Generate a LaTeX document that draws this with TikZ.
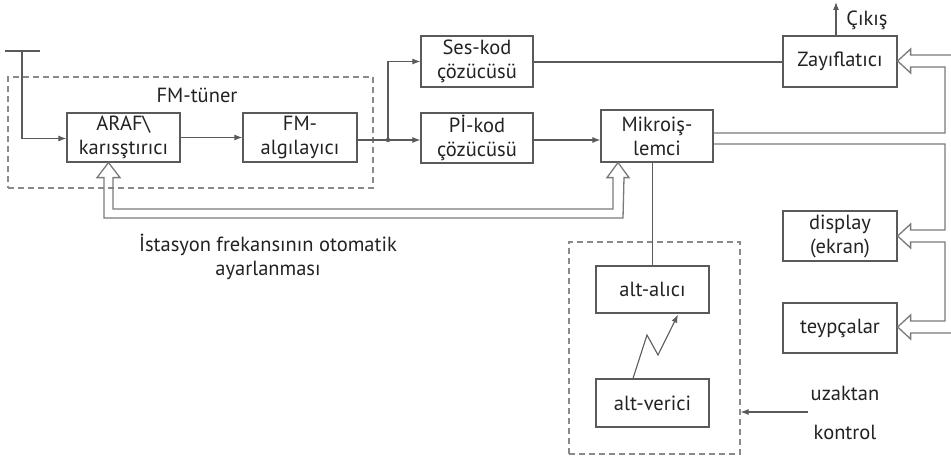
\documentclass[tikz,border=0pt]{standalone}
\usepackage{fontspec}
\setmainfont{PT Sans}
\usetikzlibrary{calc,arrows.meta}
\definecolor{linegray}{HTML}{5A5A5A}
\definecolor{dashgray}{HTML}{8A8A8A}
\definecolor{busgray}{HTML}{7A7A7A}
\definecolor{ink}{HTML}{222222}
\begin{document}
\begin{tikzpicture}[x=1pt,y=-1pt,
  every node/.style={text=ink,font=\fontsize{20.5}{24}\selectfont},
  block/.style={draw=linegray,line width=1.2pt,align=center,inner sep=0pt},
  group/.style={draw=dashgray,line width=1.2pt,dash pattern=on 6pt off 4pt,inner sep=0pt},
  wire/.style={draw=linegray,line width=1.1pt},
  arr/.style={wire,-{Latex[length=8pt,width=6pt]}},
  bus/.style={draw=busgray,line width=1.3pt,line join=miter},
  lbl/.style={align=center}]
\path[use as bounding box] (0,0) rectangle (951,460);

% group frames
\node[group,minimum width=365pt,minimum height=111pt] (tuner) at (190.5,132.5) {};
\node[group,minimum width=171pt,minimum height=212pt] (remote) at (654.5,348) {};

% blocks
\node[block,minimum width=113pt,minimum height=49pt] (araf) at (123.5,137.5) {ARAF\textbackslash\\karısştırıcı};
\node[block,minimum width=114pt,minimum height=49pt] (fmdet) at (300,137.5) {FM-\\algılayıcı};
\node[block,minimum width=112pt,minimum height=51pt] (ses) at (477,61.5) {Ses-kod\\çözücüsü};
\node[block,minimum width=112pt,minimum height=50pt] (pikod) at (477,138) {Pİ-kod\\çözücüsü};
\node[block,minimum width=112pt,minimum height=52pt] (mikro) at (657,136) {Mikroiş-\\lemci};
\node[block,minimum width=114pt,minimum height=51pt] (zay) at (840,61.5) {Zayıflatıcı};
\node[block,minimum width=114pt,minimum height=50pt] (disp) at (840,236) {display\\(ekran)};
\node[block,minimum width=114pt,minimum height=50pt] (teyp) at (840,328) {teypçalar};
\node[block,minimum width=113pt,minimum height=47pt] (alici) at (652.5,289.5) {alt-alıcı};
\node[block,minimum width=113pt,minimum height=48pt] (verici) at (652.5,403) {alt-verici};

% labels
\node (tunerlbl) at (197,95) {FM-tüner};
\node (outlbl) at (867,20) {Çıkış};
\node[lbl] (afc) at (268,257) {İstasyon frekansının otomatik\\ayarlanması};
\node (uz) at (845,393) {uzaktan};
\node (ko) at (845,432) {kontrol};

% antenna and signal path
\coordinate (antL) at (5,51);
\coordinate (antR) at (40,51);
\coordinate (ant) at (22,51);
\draw[wire] (antL) -- (antR);
\draw[arr] (ant) |- ($(araf.west)+(0,1)$);
\draw[arr] (araf) -- (fmdet);
\coordinate (split) at (388,140);
\draw[wire] (fmdet.east |- split) -- (split);
\fill[linegray] (split) circle (2.2pt);
\draw[arr] (split) -- (split -| pikod.west);
\draw[arr] (split) |- (ses.west);
\draw[wire] ($(ses.east)+(0,0.5)$) -- ($(zay.west)+(0,0.5)$);
\draw[arr] (pikod.east |- split) -- (mikro.west |- split);
\coordinate (outend) at (836,2);
\draw[arr] (zay.north -| outend) -- (outend);

% remote control
\draw[wire] (alici.north) -- (alici.north |- mikro.south);
\coordinate (rcstart) at (808,412);
\draw[arr] (rcstart) -- (rcstart -| remote.east);
\draw[arr] ($(verici.north)+(-19.5,0)$) -- (647,335) -- (658,355) -- ($(alici.south)+(25.5,1)$);

% automatic frequency control bus (hollow arrows up into ARAF and Mikroislemci)
\draw[bus] (104,218) -- ($(araf.south)+(-19.5,15)$) -- ++(-7,0) -- ($(araf.south)+(-15,0)$) -- ++(11.5,15) -- ++(-7,0) -- (113,209) -- (613,209) -- ($(mikro.south)+(-44,15)$) -- ++(-6,0) -- ($(mikro.south)+(-39,0)$) -- ++(11,15) -- ++(-5,0) -- (623,218) -- cycle;

% control buses on the right
\coordinate (edgeA) at (955,55);
\coordinate (edgeB) at (955,333);
\draw[bus] (edgeA) -- ($(zay.east)+(13,-6.5)$) -- ++(0,-6) -- ($(zay.east)+(0,-0.5)$) -- ($(zay.east)+(13,11.5)$) -- ++(0,-6) -- (945,67) -- (945,133) -- ($(mikro.east)+(0,-3)$);
\draw[bus] ($(mikro.east)+(0,8)$) -- (945,144) -- (945,230) -- ($(disp.east)+(13,-6)$) -- ++(0,-6) -- (disp.east) -- ($(disp.east)+(13,12)$) -- ++(0,-6) -- (945,242) -- (945,321) -- ($(teyp.east)+(13,-7)$) -- ++(0,-6) -- ($(teyp.east)+(0,-1)$) -- ($(teyp.east)+(13,11)$) -- ++(0,-6) -- (edgeB);
\end{tikzpicture}
\end{document}
